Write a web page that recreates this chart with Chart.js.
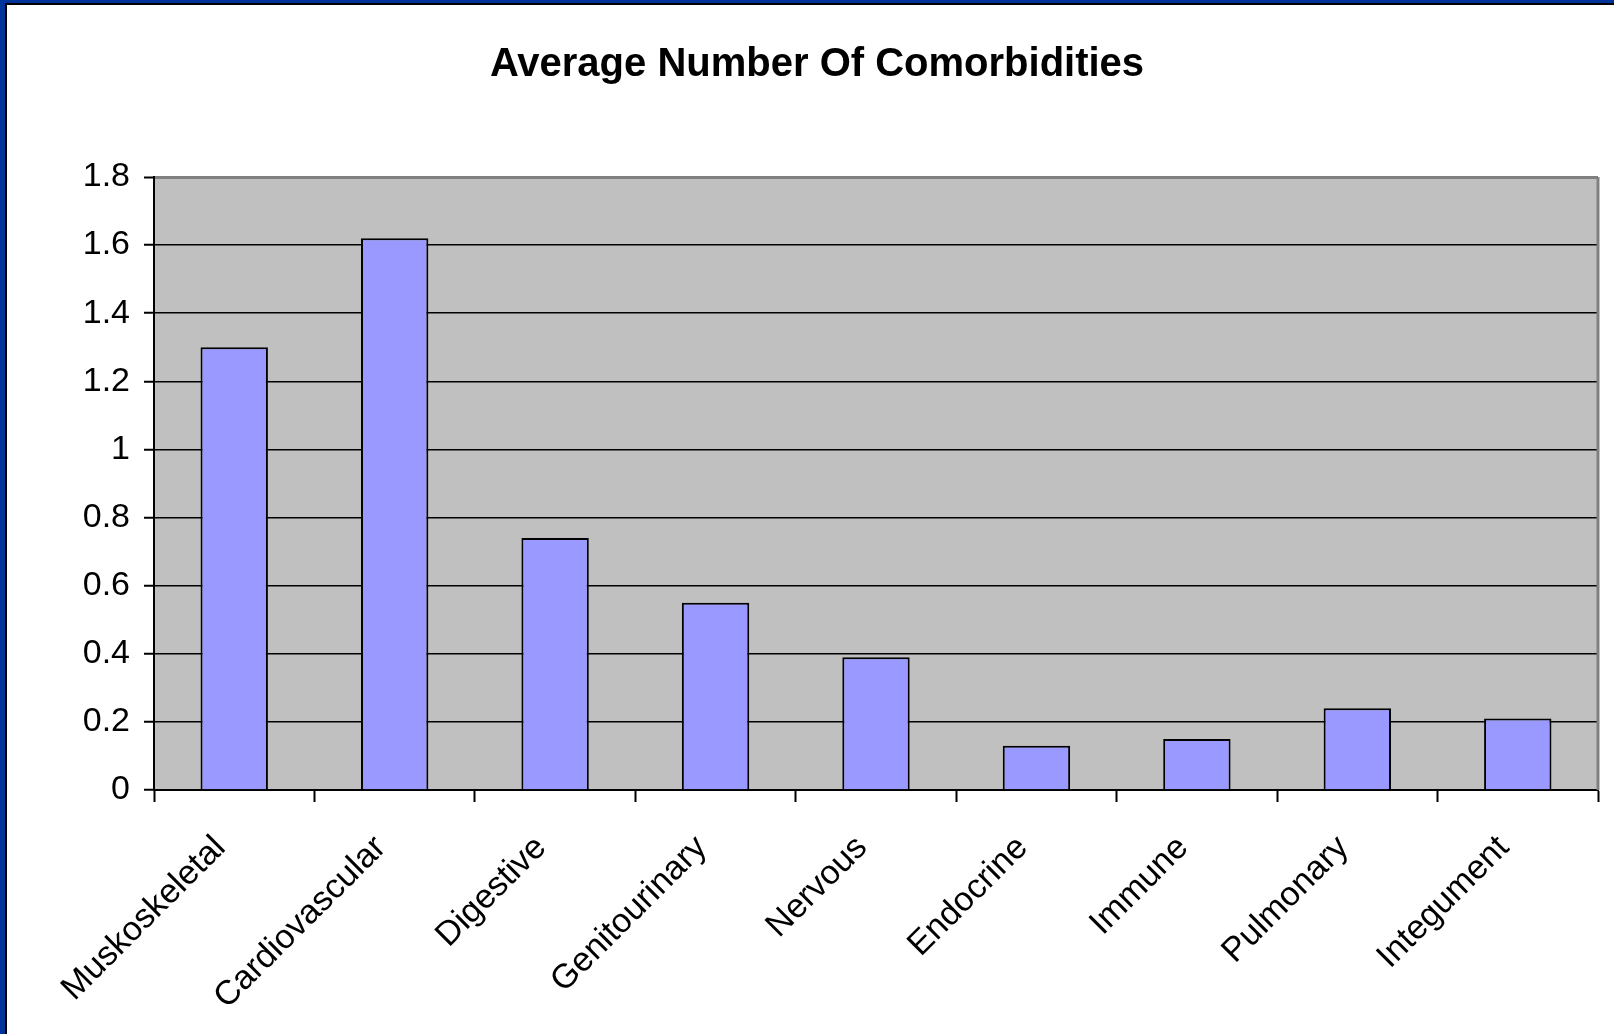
<!DOCTYPE html>
<html>
<head>
<meta charset="utf-8">
<script src="https://cdn.jsdelivr.net/npm/chart.js@4.4.1/dist/chart.umd.min.js"></script>
<style>
  html, body { margin: 0; padding: 0; background: #fff; }
  #frame {
    width: 1609px; height: 1031px;
    border-left: 5px solid #003399; border-top: 3px solid #003399;
  }
  #inner {
    width: 1607px; height: 1029px;
    border-left: 2px solid #000; border-top: 2px solid #000;
    background: #fff;
  }
</style>
</head>
<body>
<div id="frame"><div id="inner"><canvas id="barChart" width="1607" height="1029"></canvas></div></div>
<script>
const categories = ['Muskoskeletal', 'Cardiovascular', 'Digestive', 'Genitourinary', 'Nervous',
  'Endocrine', 'Immune', 'Pulmonary', 'Integument']
const averages = [1.3, 1.62, 0.74, 0.55, 0.39, 0.13, 0.15, 0.24, 0.21]
const yTicks = [0, 0.2, 0.4, 0.6, 0.8, 1, 1.2, 1.4, 1.6, 1.8]

const FONT = "'Liberation Sans', Arial, sans-serif"

// grey plot area with the grey top/right frame, like the old spreadsheet chart
const plotBackground = {
  id: 'plotBackground',
  beforeDraw (chart) {
    const { ctx, chartArea: a } = chart
    ctx.save()
    ctx.fillStyle = '#c0c0c0'
    ctx.fillRect(a.left, a.top, a.right - a.left, a.bottom - a.top)
    ctx.restore()
  },
  afterDatasetsDraw (chart) {
    const { ctx, chartArea: a } = chart
    ctx.save()
    ctx.strokeStyle = '#808080'
    ctx.lineWidth = 3
    ctx.beginPath()
    ctx.moveTo(a.right, a.top)
    ctx.lineTo(a.right, a.bottom)
    ctx.stroke()
    ctx.restore()
  }
}

const CHART = document.getElementById('barChart')
new Chart(CHART, {
  type: 'bar',
  data: {
    labels: categories,
    datasets: [
      {
        label: 'Average',
        backgroundColor: '#9999ff',
        borderColor: '#000',
        borderWidth: 2,
        data: averages,
        barPercentage: 0.42,
        categoryPercentage: 1
      }
    ]
  },
  options: {
    responsive: false,
    animation: false,
    layout: { padding: { left: 29, right: 16, top: 0, bottom: 0 } },
    plugins: {
      legend: { display: false },
      tooltip: { enabled: false },
      title: {
        display: true,
        text: 'Average Number Of Comorbidities',
        color: '#000',
        font: { family: FONT, size: 40, weight: 'bold' },
        padding: { top: 36, bottom: 88 }
      }
    },
    scales: {
      x: {
        offset: true,
        grid: {
          offset: true,
          drawOnChartArea: false,
          drawTicks: true,
          tickLength: 12,
          tickColor: '#000',
          tickWidth: 2
        },
        border: { display: true, color: '#000', width: 2 },
        ticks: {
          color: '#000',
          font: { family: FONT, size: 34 },
          minRotation: 45,
          maxRotation: 45,
          padding: 26,
          labelOffset: -14,
          autoSkip: false
        },
        afterFit (scale) { scale.height = 244 }
      },
      y: {
        min: 0,
        max: 1.8,
        afterBuildTicks (scale) { scale.ticks = yTicks.map(v => ({ value: v })) },
        grid: {
          color: ctx => (ctx.tick && ctx.tick.value === 1.8 ? '#808080' : '#000'),
          lineWidth: ctx => (ctx.tick && ctx.tick.value === 1.8 ? 3 : 1.5),
          tickLength: 10,
          tickColor: '#000',
          tickWidth: 2
        },
        border: { display: true, color: '#000', width: 2 },
        ticks: {
          color: '#000',
          font: { family: FONT, size: 34 },
          padding: 14,
          callback: v => String(v)
        },
        afterFit (scale) { scale.width = 118 }
      }
    }
  },
  plugins: [plotBackground]
})
</script>
</body>
</html>
